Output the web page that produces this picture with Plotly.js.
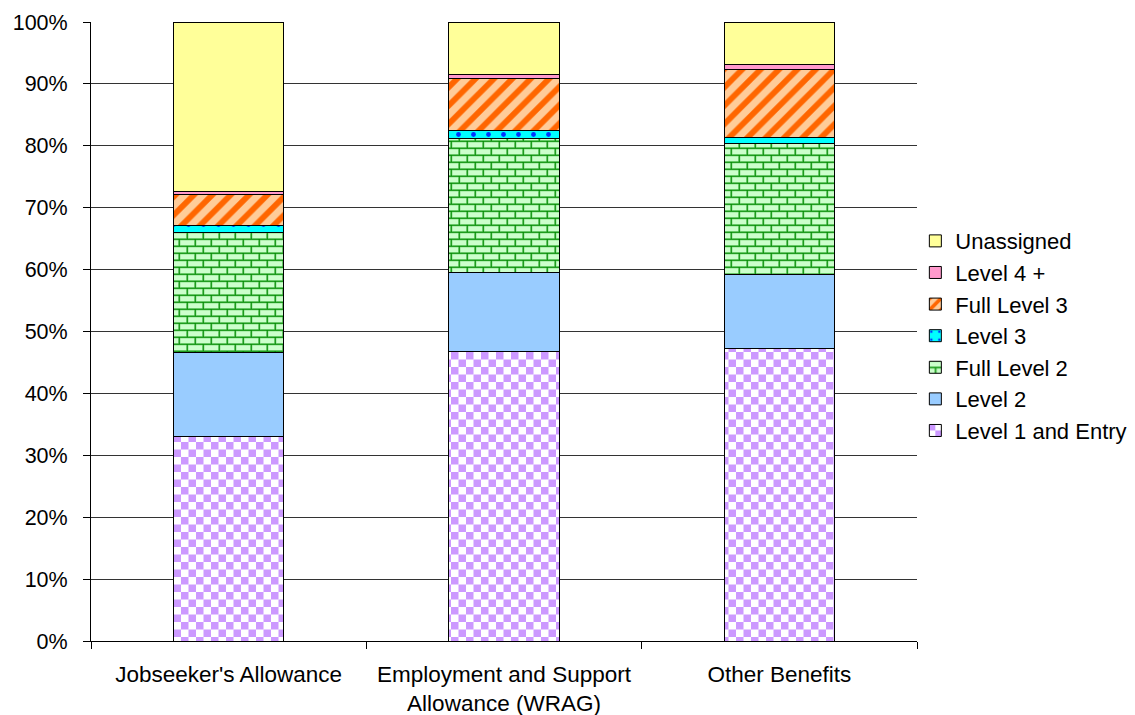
<!DOCTYPE html>
<html>
<head>
<meta charset="utf-8">
<script src="https://cdn.plot.ly/plotly-3.0.1.min.js"></script>
<style>
  html, body { margin: 0; padding: 0; background: #fff; }
  #chart { width: 1135px; height: 715px; }
</style>
</head>
<body>
<div id="chart"></div>
<script>
// Benefit groups along the x axis
const categories = ["Jobseeker's Allowance", "Employment and Support<br>Allowance (WRAG)", "Other Benefits"];

// Share of claimants (%) at each qualification level
const level1Entry  = [33.0, 46.8, 47.3];
const level2       = [13.6, 12.8, 11.9];
const fullLevel2   = [19.4, 21.6, 21.2];
const level3       = [1.1, 1.2, 1.0];
const fullLevel3   = [5.1, 8.5, 11.0];
const level4Plus   = [0.4, 0.6, 0.7];
const unassigned   = [27.4, 8.5, 6.9];

const yTickVals = [0, 10, 20, 30, 40, 50, 60, 70, 80, 90, 100];
const yTickText = ["0%", "10%", "20%", "30%", "40%", "50%", "60%", "70%", "80%", "90%", "100%"];

const outline = { color: '#000', width: 1 };

function series(name, values, color, pattern) {
  const t = {
    type: 'bar', name: name, x: categories, y: values,
    width: 0.4,
    marker: { color: color, line: outline },
    hoverinfo: 'name+y'
  };
  if (pattern) t.marker.pattern = pattern;
  return t;
}

const data = [
  series('Level 1 and Entry', level1Entry, '#cc99ff'),
  series('Level 2', level2, '#99ccff'),
  series('Full Level 2', fullLevel2, '#ccffcc'),
  series('Level 3', level3, '#00ffff', { shape: '.', bgcolor: '#00ffff', fgcolor: '#0033ff', size: 15, solidity: 0.08, fillmode: 'replace' }),
  series('Full Level 3', fullLevel3, '#ffcc99', { shape: '/', bgcolor: '#ffcc99', fgcolor: '#ff6600', size: 13, solidity: 0.45, fillmode: 'replace' }),
  series('Level 4 +', level4Plus, '#ff99cc'),
  series('Unassigned', unassigned, '#ffff99')
];

const font = { family: 'Liberation Sans, Arial, sans-serif', size: 22, color: '#000' };

const layout = {
  width: 1135, height: 715,
  margin: { l: 91, r: 218, t: 22, b: 74, autoexpand: false },
  paper_bgcolor: '#fff', plot_bgcolor: '#fff',
  barmode: 'stack',
  showlegend: true,
  font: font,
  xaxis: {
    type: 'category',
    showline: true, linecolor: '#000', linewidth: 1,
    ticks: 'outside', tickson: 'boundaries', ticklen: 7, tickcolor: '#000',
    ticklabelstandoff: 13,
    showgrid: false, zeroline: false,
    tickfont: { family: font.family, size: 22.5, color: '#000' }, fixedrange: true
  },
  yaxis: {
    range: [0, 100],
    tickvals: yTickVals, ticktext: yTickText,
    showline: true, linecolor: '#000', linewidth: 1,
    ticks: 'outside', ticklen: 7, tickcolor: '#000',
    ticklabelstandoff: 11,
    showgrid: true, gridcolor: '#333', gridwidth: 1,
    zeroline: false, tickfont: { family: font.family, size: 21.5, color: '#000' }, fixedrange: true
  },
  legend: {
    x: 0.998, xanchor: 'left', y: 0.68, yanchor: 'top',
    traceorder: 'reversed',
    font: { family: font.family, size: 22, color: '#000' }, bgcolor: 'rgba(0,0,0,0)'
  }
};

// Checkerboard and brick fills that the built-in pattern set lacks
function addCustomPatterns(svg) {
  const ns = 'http://www.w3.org/2000/svg';
  const defs = document.createElementNS(ns, 'defs');
  const brick = 'fill="#ccffcc" stroke="#66cc66" stroke-width="0.6"';
  defs.innerHTML =
    '<pattern id="chk" patternUnits="userSpaceOnUse" width="15" height="15">' +
      '<rect width="15" height="15" fill="#ffffff"/>' +
      '<rect x="0" y="0" width="7.5" height="7.5" fill="#cc99ff"/>' +
      '<rect x="7.5" y="7.5" width="7.5" height="7.5" fill="#cc99ff"/>' +
    '</pattern>' +
    '<pattern id="brick" patternUnits="userSpaceOnUse" width="16" height="14">' +
      '<rect width="16" height="14" fill="#008800"/>' +
      '<rect x="1" y="1" width="14.5" height="5.5" ' + brick + '/>' +
      '<rect x="-7" y="8" width="14.5" height="5.5" ' + brick + '/>' +
      '<rect x="9" y="8" width="14.5" height="5.5" ' + brick + '/>' +
    '</pattern>';
  svg.insertBefore(defs, svg.firstChild);
}

const customFill = { 'Level 1 and Entry': 'url(#chk)', 'Full Level 2': 'url(#brick)' };

function applyCustomFills(gd) {
  gd.querySelectorAll('.barlayer .trace').forEach(function (g) {
    const d = g.__data__;
    const name = d && d[0] && d[0].trace && d[0].trace.name;
    if (customFill[name]) {
      g.querySelectorAll('.point path').forEach(function (p) { p.style.fill = customFill[name]; });
    }
  });
  gd.querySelectorAll('.legend .traces').forEach(function (g) {
    const d = g.__data__;
    const name = d && d[0] && d[0].trace && d[0].trace.name;
    if (customFill[name]) {
      g.querySelectorAll('.legendpoints path').forEach(function (p) { p.style.fill = customFill[name]; });
    }
  });
}

const gd = document.getElementById('chart');
Plotly.newPlot(gd, data, layout, { displayModeBar: false, staticPlot: true }).then(function () {
  addCustomPatterns(gd.querySelector('svg.main-svg'));
  applyCustomFills(gd);
});
</script>
</body>
</html>
